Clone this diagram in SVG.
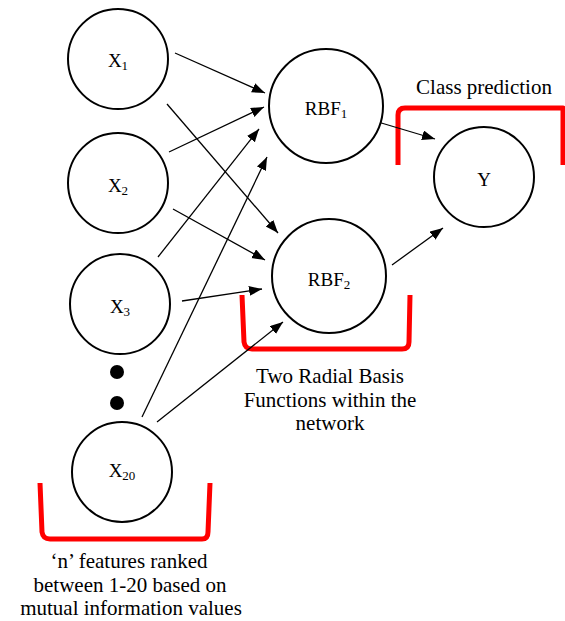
<svg xmlns="http://www.w3.org/2000/svg" width="565" height="621" viewBox="0 0 565 621">
<style>
.node circle{fill:#fff;stroke:#000;stroke-width:2}
text{font-family:'Liberation Serif','Times New Roman',Times,serif}
.lbl{font-size:19px;fill:#000;text-anchor:middle}
.sub{font-size:13px}
.edge{stroke:#000;stroke-width:1.3;fill:none;marker-end:url(#ah)}
.brk{stroke:#f00;stroke-width:5;fill:none;stroke-linejoin:round}
.cap{font-size:21px;fill:#000;text-anchor:middle}
</style>
<defs>
<marker id="ah" markerUnits="userSpaceOnUse" markerWidth="14" markerHeight="12" refX="13" refY="5" orient="auto">
<path d="M0,0 L13,5 L0,10 Z" fill="#000"/>
</marker>
</defs>
<rect width="565" height="621" fill="#fff"/>
<g id="brackets">
<path class="brk" d="M398,165 L398,115 Q398,108 405,108 L563,108 L563,165"/>
<path class="brk" d="M242,295 L244,342 Q245,349 252,349 L402,349 Q409,349 409,342 L410,295"/>
<path class="brk" d="M40,483 L42,532 Q43,539 50,539 L202,539 Q208,539 208,532 L210,483"/>
</g>
<g id="connectors">
<line class="edge" x1="175" y1="53" x2="265" y2="93"/>
<line class="edge" x1="167" y1="104" x2="278" y2="233"/>
<line class="edge" x1="169" y1="152" x2="264" y2="107"/>
<line class="edge" x1="173" y1="209" x2="265" y2="260"/>
<line class="edge" x1="158" y1="257" x2="259" y2="129"/>
<line class="edge" x1="182" y1="301" x2="262" y2="289"/>
<line class="edge" x1="142" y1="417" x2="267" y2="157"/>
<line class="edge" x1="157" y1="422" x2="283" y2="322"/>
<line class="edge" x1="378" y1="122" x2="435" y2="139"/>
<line class="edge" x1="392" y1="265" x2="443" y2="228"/>
</g>
<g id="x1" class="node"><circle cx="118" cy="59" r="50"/><text class="lbl" x="118" y="67">X<tspan class="sub" dy="3">1</tspan></text></g>
<g id="x2" class="node"><circle cx="118" cy="183" r="50"/><text class="lbl" x="118" y="192">X<tspan class="sub" dy="3">2</tspan></text></g>
<g id="x3" class="node"><circle cx="120" cy="304" r="50"/><text class="lbl" x="120" y="313">X<tspan class="sub" dy="3">3</tspan></text></g>
<g id="dots"><circle cx="117" cy="372" r="7" fill="#000"/><circle cx="117" cy="403" r="7" fill="#000"/></g>
<g id="x20" class="node"><circle cx="122" cy="472" r="50"/><text class="lbl" x="122" y="477">X<tspan class="sub" dy="3">20</tspan></text></g>
<g id="rbf1" class="node"><circle cx="326" cy="106" r="57"/><text class="lbl" x="326" y="115">RBF<tspan class="sub" dy="3">1</tspan></text></g>
<g id="rbf2" class="node"><circle cx="329" cy="276" r="57"/><text class="lbl" x="329" y="286">RBF<tspan class="sub" dy="3">2</tspan></text></g>
<g id="y" class="node"><circle cx="484" cy="177" r="50"/><text class="lbl" x="484" y="186">Y</text></g>
<g id="labels">
<text class="cap" x="484" y="94">Class prediction</text>
<text class="cap" x="330" y="383">Two Radial Basis</text>
<text class="cap" x="330" y="407">Functions within the</text>
<text class="cap" x="330" y="430">network</text>
<text class="cap" x="129" y="568">‘n’ features ranked</text>
<text class="cap" x="130" y="592">between 1-20 based on</text>
<text class="cap" x="131" y="615">mutual information values</text>
</g>
</svg>
